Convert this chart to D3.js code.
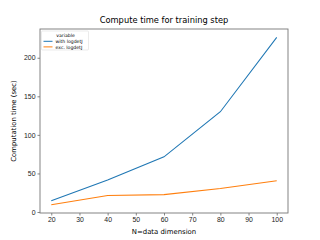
<!DOCTYPE html>
<html>
<head>
<meta charset="utf-8">
<script src="https://cdn.jsdelivr.net/npm/d3@7"></script>
<style>
  body { margin: 0; background: #fff; }
  svg { display: block; font-family: "DejaVu Sans", sans-serif; }
</style>
</head>
<body>
<div id="chart"></div>
<script>
const dims = [20, 40, 60, 80, 100];
const withLogdet = [14.5, 41.5, 71.5, 130, 226.5];
const excLogdet = [9.5, 21.5, 22.5, 30.5, 40.5];
const seriesNames = ["with logdetJ", "exc. logdetJ"];
const seriesColors = ["#1f77b4", "#ff7f0e"];
const xTicks = [20, 30, 40, 50, 60, 70, 80, 90, 100];
const yTicks = [0, 50, 100, 150, 200];

const W = 320, H = 240;
const margin = { top: 29, right: 32, bottom: 27, left: 40 };
const width = W - margin.left - margin.right;
const height = H - margin.top - margin.bottom;

const svg = d3.select("#chart")
  .append("svg")
  .attr("width", W)
  .attr("height", H);

const g = svg.append("g")
  .attr("transform", `translate(${margin.left},${margin.top})`);

const x = d3.scaleLinear().domain([16, 104]).range([0, width]);
const y = d3.scaleLinear().domain([-1.3, 237.3]).range([height, 0]);

// axes
const xAxis = g.append("g")
  .attr("transform", `translate(0,${height})`)
  .call(d3.axisBottom(x).tickValues(xTicks).tickSize(2.5).tickPadding(2));
const yAxis = g.append("g")
  .call(d3.axisLeft(y).tickValues(yTicks).tickSize(2.5).tickPadding(2));

[xAxis, yAxis].forEach(a => {
  a.select(".domain").remove();
  a.selectAll("line").attr("stroke", "#333").attr("stroke-width", 0.6);
  a.selectAll("text").style("font-size", "6.9px").attr("fill", "#222");
});

// frame
g.append("rect")
  .attr("width", width)
  .attr("height", height)
  .attr("fill", "none")
  .attr("stroke", "#777")
  .attr("stroke-width", 0.9);

const line = d3.line()
  .x((d, i) => x(dims[i]))
  .y(d => y(d));

[withLogdet, excLogdet].forEach((vals, i) => {
  g.append("path")
    .datum(vals)
    .attr("d", line)
    .attr("fill", "none")
    .attr("stroke", seriesColors[i])
    .attr("stroke-width", 1.05);
});

// title and labels
svg.append("text")
  .attr("x", margin.left + width / 2)
  .attr("y", 23)
  .attr("text-anchor", "middle")
  .style("font-size", "8.3px")
  .text("Compute time for training step");

svg.append("text")
  .attr("x", margin.left + width / 2)
  .attr("y", 233.5)
  .attr("text-anchor", "middle")
  .style("font-size", "6.9px")
  .text("N=data dimension");

svg.append("text")
  .attr("transform", `translate(16,${margin.top + height / 2}) rotate(-90)`)
  .attr("text-anchor", "middle")
  .style("font-size", "6.9px")
  .text("Computation time (sec)");

// legend
const lg = g.append("g").attr("transform", "translate(1.5,2)");
lg.append("rect")
  .attr("width", 47)
  .attr("height", 19)
  .attr("rx", 1)
  .attr("fill", "#fff")
  .attr("stroke", "#ddd")
  .attr("stroke-width", 0.6);
lg.append("text")
  .attr("x", 24)
  .attr("y", 5.6)
  .attr("text-anchor", "middle")
  .style("font-size", "4.6px")
  .text("variable");
seriesNames.forEach((name, i) => {
  const yy = 10.3 + i * 5.6;
  lg.append("line")
    .attr("x1", 2).attr("x2", 11)
    .attr("y1", yy).attr("y2", yy)
    .attr("stroke", seriesColors[i])
    .attr("stroke-width", 1);
  lg.append("text")
    .attr("x", 14)
    .attr("y", yy + 1.6)
    .style("font-size", "4.6px")
    .text(name);
});
</script>
</body>
</html>
